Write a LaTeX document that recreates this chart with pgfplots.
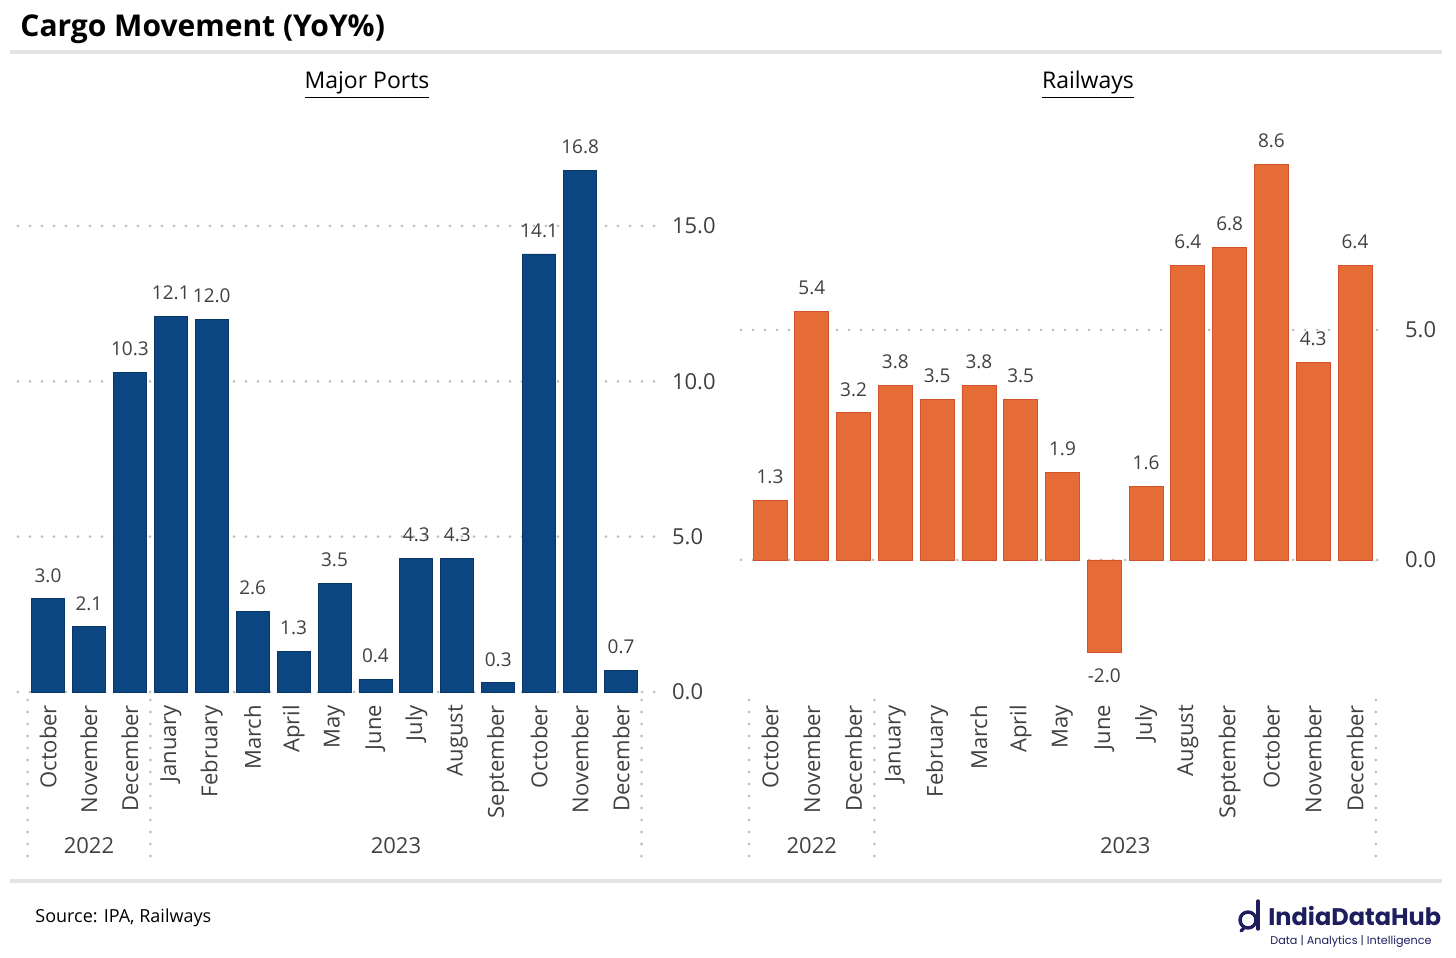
\documentclass[border=0pt]{standalone}
\usepackage{fontspec}
\setmainfont{Open Sans}
\newfontfamily\logofont{Poppins}
\usepackage{pgfplots}
\usepackage{pgfplotstable}
\pgfplotsset{compat=1.18}

\definecolor{portblue}{HTML}{0B4682}
\definecolor{railorange}{HTML}{E66C37}
\definecolor{txtgray}{HTML}{404040}
\definecolor{gridgray}{HTML}{BDBDBD}
\definecolor{rulegray}{HTML}{E3E3E3}
\definecolor{logonavy}{HTML}{1E1E5F}

% month index, YoY %
\pgfplotstableread{
x val
0 3.0
1 2.1
2 10.3
3 12.1
4 12.0
5 2.6
6 1.3
7 3.5
8 0.4
9 4.3
10 4.3
11 0.3
12 14.1
13 16.8
14 0.7
}\ports

\pgfplotstableread{
x val
0 1.3
1 5.4
2 3.2
3 3.8
4 3.5
5 3.8
6 3.5
7 1.9
8 -2.0
9 1.6
10 6.4
11 6.8
12 8.6
13 4.3
14 6.4
}\rail

\tikzset{yearsep/.style={gridgray, line width=1.5pt, dash pattern=on 0pt off 6pt, line cap=round}}

\pgfplotsset{
  panel/.style={
    scale only axis, anchor=south west, height=281pt,
    ybar, bar shift=0pt, clip=false,
    axis line style={draw=none}, major tick length=0pt,
    ymajorgrids,
    grid style={gridgray, line width=1.5pt, dash pattern=on 0pt off 6pt, line cap=round},
    yticklabel pos=right,
    /pgf/number format/assume math mode=true,
    yticklabel style={font=\fontsize{11}{13}\selectfont, text=txtgray, anchor=west, xshift=5pt,
      /pgf/number format/.cd, fixed, fixed zerofill, precision=1},
    xtick={0,...,14},
    xticklabels={October,November,December,January,February,March,April,May,June,July,August,September,October,November,December},
    xticklabel style={rotate=90, anchor=east, xshift=-3pt, font=\fontsize{11}{13}\selectfont, text=txtgray},
    nodes near coords,
    nodes near coords style={font=\fontsize{9.5}{11}\selectfont, text=txtgray, inner ysep=8pt,
      /pgf/number format/.cd, fixed, fixed zerofill, precision=1},
  },
}

\begin{document}
\begin{tikzpicture}
\useasboundingbox (0,0) rectangle (728pt,479pt);

% header and footer
\node[anchor=base west, font=\bfseries\fontsize{15}{18}\selectfont, inner sep=0pt] at (10pt,460.5pt) {Cargo Movement (YoY\%)};
\fill[rulegray] (5pt,452pt) rectangle (721pt,454pt);
\fill[rulegray] (5pt,37.5pt) rectangle (721pt,39.5pt);
\node[anchor=west, font=\fontsize{9}{11}\selectfont, inner sep=0pt] at (17.5pt,20pt) {Source: IPA, Railways};

% logo
\draw[logonavy, line width=1.7pt] (624pt,19pt) circle (4pt);
\draw[logonavy, line width=1.7pt, line cap=round] (629pt,28.5pt) -- (629pt,14.5pt);
\draw[logonavy, line width=1.7pt, line cap=round] (622pt,15pt) -- (620.5pt,13.5pt);
\node[anchor=base west, inner sep=0pt, text=logonavy, font=\logofont\bfseries\fontsize{12}{14}\selectfont] at (634pt,16pt) {IndiaDataHub};
\node[anchor=base west, inner sep=0pt, text=logonavy, font=\logofont\fontsize{5.6}{7}\selectfont] at (635pt,6.5pt) {Data | Analytics | Intelligence};

% panel titles
\node[font=\fontsize{11.5}{14}\selectfont] at (183.5pt,436.5pt) {\underline{Major Ports}};
\node[font=\fontsize{11.5}{14}\selectfont] at (544pt,436.5pt) {\underline{Railways}};

\begin{axis}[panel,
  at={(9pt,133pt)}, width=318.5pt,
  xmin=-0.733, xmax=14.83, ymin=0, ymax=18.09,
  ytick={0,5,10,15}, bar width=16.5pt]
  \addplot[fill=portblue, draw=portblue!80!black, line width=0.4pt] table[x=x,y=val] {\ports};
  \draw[yearsep] ({axis cs:-0.5,0}|-{rel axis cs:0,0}) ++(0pt,-4pt) -- ++(0pt,-82pt);
  \draw[yearsep] ({axis cs:2.5,0}|-{rel axis cs:0,0}) ++(0pt,-4pt) -- ++(0pt,-82pt);
  \draw[yearsep] ({axis cs:14.5,0}|-{rel axis cs:0,0}) ++(0pt,-4pt) -- ++(0pt,-82pt);
  \node[font=\fontsize{11}{13}\selectfont, text=txtgray] at ({axis cs:1,0}|-{rel axis cs:0,0}) [yshift=-77pt] {2022};
  \node[font=\fontsize{11}{13}\selectfont, text=txtgray] at ({axis cs:8.5,0}|-{rel axis cs:0,0}) [yshift=-77pt] {2023};
\end{axis}

\begin{axis}[panel,
  at={(370.5pt,133pt)}, width=323.5pt,
  xmin=-0.694, xmax=14.79, ymin=-2.87, ymax=9.348,
  ytick={0,5}, bar width=17pt]
  \addplot[fill=railorange, draw=railorange!85!red!90!black, line width=0.4pt] table[x=x,y=val] {\rail};
  \draw[yearsep] ({axis cs:-0.5,0}|-{rel axis cs:0,0}) ++(0pt,-4pt) -- ++(0pt,-82pt);
  \draw[yearsep] ({axis cs:2.5,0}|-{rel axis cs:0,0}) ++(0pt,-4pt) -- ++(0pt,-82pt);
  \draw[yearsep] ({axis cs:14.5,0}|-{rel axis cs:0,0}) ++(0pt,-4pt) -- ++(0pt,-82pt);
  \node[font=\fontsize{11}{13}\selectfont, text=txtgray] at ({axis cs:1,0}|-{rel axis cs:0,0}) [yshift=-77pt] {2022};
  \node[font=\fontsize{11}{13}\selectfont, text=txtgray] at ({axis cs:8.5,0}|-{rel axis cs:0,0}) [yshift=-77pt] {2023};
\end{axis}
\end{tikzpicture}
\end{document}
